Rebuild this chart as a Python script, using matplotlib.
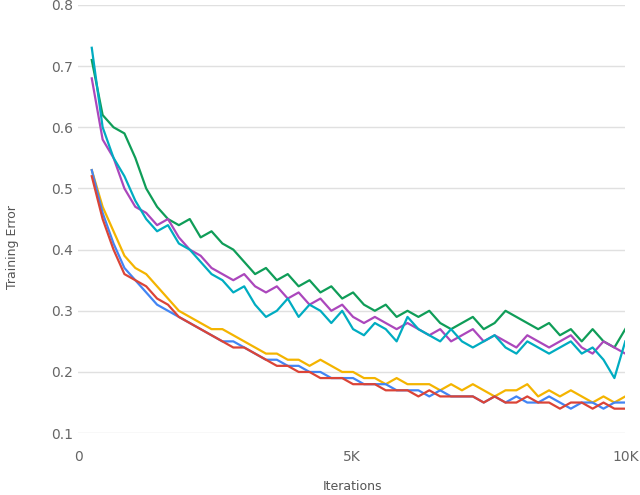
import numpy as np
import matplotlib
matplotlib.use("Agg")
import matplotlib.pyplot as plt

green = [0.71,0.62,0.60,0.59,0.55,0.50,0.47,0.45,0.44,0.45,0.42,0.43,0.41,0.40,0.38,0.36,0.37,0.35,0.36,0.34,0.35,0.33,0.34,0.32,0.33,0.31,0.30,0.31,0.29,0.30,0.29,0.30,0.28,0.27,0.28,0.29,0.27,0.28,0.30,0.29,0.28,0.27,0.28,0.26,0.27,0.25,0.27,0.25,0.24,0.27]
purple = [0.68,0.58,0.55,0.50,0.47,0.46,0.44,0.45,0.42,0.40,0.39,0.37,0.36,0.35,0.36,0.34,0.33,0.34,0.32,0.33,0.31,0.32,0.30,0.31,0.29,0.28,0.29,0.28,0.27,0.28,0.27,0.26,0.27,0.25,0.26,0.27,0.25,0.26,0.25,0.24,0.26,0.25,0.24,0.25,0.26,0.24,0.23,0.25,0.24,0.23]
cyan = [0.73,0.60,0.55,0.52,0.48,0.45,0.43,0.44,0.41,0.40,0.38,0.36,0.35,0.33,0.34,0.31,0.29,0.30,0.32,0.29,0.31,0.30,0.28,0.30,0.27,0.26,0.28,0.27,0.25,0.29,0.27,0.26,0.25,0.27,0.25,0.24,0.25,0.26,0.24,0.23,0.25,0.24,0.23,0.24,0.25,0.23,0.24,0.22,0.19,0.25]
red = [0.52,0.45,0.40,0.36,0.35,0.34,0.32,0.31,0.29,0.28,0.27,0.26,0.25,0.24,0.24,0.23,0.22,0.21,0.21,0.20,0.20,0.19,0.19,0.19,0.18,0.18,0.18,0.17,0.17,0.17,0.16,0.17,0.16,0.16,0.16,0.16,0.15,0.16,0.15,0.15,0.16,0.15,0.15,0.14,0.15,0.15,0.14,0.15,0.14,0.14]
blue = [0.53,0.46,0.41,0.37,0.35,0.33,0.31,0.30,0.29,0.28,0.27,0.26,0.25,0.25,0.24,0.23,0.22,0.22,0.21,0.21,0.20,0.20,0.19,0.19,0.19,0.18,0.18,0.18,0.17,0.17,0.17,0.16,0.17,0.16,0.16,0.16,0.15,0.16,0.15,0.16,0.15,0.15,0.16,0.15,0.14,0.15,0.15,0.14,0.15,0.15]
yellow = [0.53,0.47,0.43,0.39,0.37,0.36,0.34,0.32,0.30,0.29,0.28,0.27,0.27,0.26,0.25,0.24,0.23,0.23,0.22,0.22,0.21,0.22,0.21,0.20,0.20,0.19,0.19,0.18,0.19,0.18,0.18,0.18,0.17,0.18,0.17,0.18,0.17,0.16,0.17,0.17,0.18,0.16,0.17,0.16,0.17,0.16,0.15,0.16,0.15,0.16]

series = [(green, "#0f9d58"), (purple, "#ab47bc"), (cyan, "#00acc1"),
          (yellow, "#f4b400"), (blue, "#4285f4"), (red, "#db4437")]

fig = plt.figure(figsize=(6.4, 4.95), dpi=100)
ax = fig.add_axes([0.122, 0.125, 0.855, 0.865])
for vals, c in series:
    x = np.linspace(250, 10000, len(vals))
    ax.plot(x, vals, color=c, lw=1.6)
ax.set_xlim(0, 10000)
ax.set_ylim(0.1, 0.8)
ax.set_yticks([0.1,0.2,0.3,0.4,0.5,0.6,0.7,0.8])
ax.set_xticks([0, 5000, 10000])
ax.set_xticklabels(["0", "5K", "10K"])
for s in ax.spines.values():
    s.set_visible(False)
ax.grid(axis="y", color="#e0e0e0", lw=1)
ax.tick_params(length=0, colors="#666666", labelsize=10)
ax.tick_params(axis="x", pad=12)
ax.set_axisbelow(True)
fig.text(0.55, 0.01, "Iterations", ha="center", color="#555555", fontsize=9)
fig.text(0.01, 0.5, "Training Error", rotation=90, va="center", color="#555555", fontsize=9)
fig.savefig("out.png")
